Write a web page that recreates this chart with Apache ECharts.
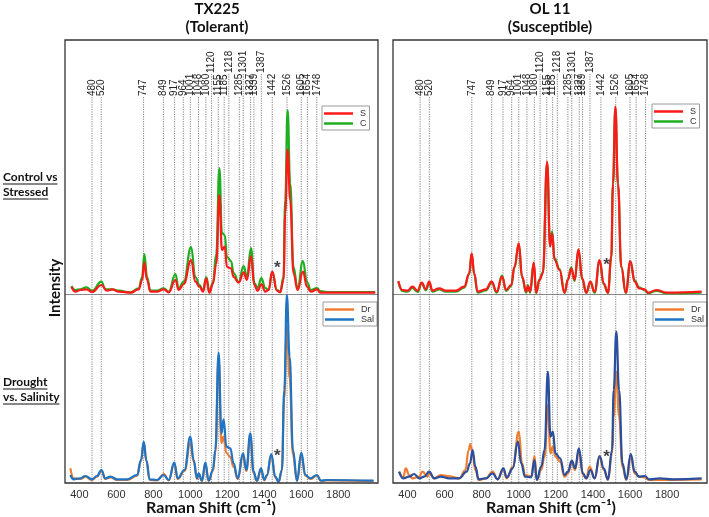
<!DOCTYPE html>
<html>
<head>
<meta charset="utf-8">
<script src="https://cdn.jsdelivr.net/npm/echarts@6/dist/echarts.min.js"></script>
<style>html,body{margin:0;padding:0;background:#fff}#c{width:709px;height:517px}</style>
</head>
<body>
<div id="c"></div>
<script>
// ---------- DATA ----------
const panelTitles = [['TX225', '(Tolerant)'], ['OL 11', '(Susceptible)']];
const rowTitles = [['Control vs', 'Stressed'], ['Drought', 'vs. Salinity']];
const xTickValues = [400, 600, 800, 1000, 1200, 1400, 1600, 1800];
const peakPositions = [468, 518, 747, 854, 915, 962, 1000, 1044, 1084, 1115, 1151, 1183, 1208, 1265, 1286, 1326, 1344, 1384, 1443, 1523, 1600, 1633, 1684];
const peakLabels = ['480', '520', '747', '849', '917', '964', '1001', '1048', '1080', '1120', '1155', '1185', '1218', '1285', '1301', '1327', '1339', '1387', '1442', '1526', '1605', '1654', '1748'];
const raisedLabels = ['1120', '1218', '1301', '1387'];
const starPointsTop = [[1470, 30], [1474, 33]];
const starPointsBottom = [[1470, 31], [1474, 30]];

// TX225 control vs stressed
const tx225_C = [[357,8],[378,4],[405,4.7],[438,6.7],[468,3.3],[519,12.3],[540,4.7],[577,4.7],[613,3.3],[676,1.7],[721,5.7],[739,17],[751,40],[766,17],[784,3.3],[820,3.3],[856,5.7],[883,2.3],[919,20],[937,5.7],[964,12.3],[1004,47],[1027,17],[1050,9],[1068,3.3],[1086,17],[1103,2.3],[1122,11.3],[1140,40],[1157,126],[1171,61],[1186,59],[1198,37],[1220,33],[1234,21],[1261,12],[1288,28],[1306,17],[1328,46],[1346,11],[1364,6],[1384,16],[1405,6],[1423,4],[1443,22],[1468,4],[1486,2.3],[1504,17],[1513,94],[1526,184],[1540,111],[1558,27],[1580,6],[1609,33],[1631,12],[1652,4],[1685,6],[1703,3],[1739,2],[2000,2]];
const tx225_S = [[357,7.3],[378,2.3],[405,4],[438,4.7],[468,2],[519,9],[549,3.3],[577,4.7],[613,2.3],[676,1.3],[721,4.7],[739,14],[751,31.3],[766,14],[784,2.3],[820,2.3],[856,4.7],[883,1.7],[919,14],[937,4],[964,10],[1004,34],[1027,12.3],[1050,7.3],[1068,2.3],[1086,15.7],[1103,1.3],[1122,10],[1140,30],[1157,99],[1171,44],[1186,47.3],[1198,27],[1220,25.7],[1234,17],[1261,11.3],[1288,21.3],[1306,14],[1328,38],[1346,9],[1364,3.3],[1384,9.7],[1405,2.3],[1423,4],[1443,22.3],[1468,3.3],[1486,1.7],[1504,14],[1513,80.7],[1526,144.7],[1540,94],[1558,20.7],[1580,4],[1609,22.3],[1631,7.3],[1652,2.3],[1685,4.7],[1703,1.3],[2000,1.3]];

// OL 11 control vs stressed
const ol11_S = [[351,13],[373,4],[400,3.3],[427,7.3],[454,3.3],[477,11.3],[499,4.7],[517,12.3],[535,3.3],[571,5.7],[607,3.3],[661,3.3],[706,7.3],[733,20.7],[746,40.7],[760,20.7],[778,2.3],[823,4.7],[854,12.3],[881,2.3],[910,17.3],[932,4],[959,9],[977,27.3],[1000,50.7],[1018,17.3],[1040,2.3],[1049,8],[1061,2.3],[1081,31.3],[1094,1.3],[1112,14],[1130,20.7],[1153,132.3],[1169,47.3],[1180,60.7],[1193,34],[1220,24],[1247,1.3],[1265,14],[1283,25.7],[1301,14],[1322,44.7],[1342,15.7],[1364,1.3],[1386,12.3],[1409,2.3],[1436,34],[1458,10.7],[1481,1.3],[1499,37.3],[1508,110.7],[1521,187.3],[1535,110.7],[1553,27.3],[1577,1.3],[1602,33],[1625,12.3],[1649,5.7],[1679,4.7],[1697,1.3],[1742,4],[1796,1.3],[1986,2.3]];
const ol11_C = [[351,12],[373,3],[400,2.3],[427,6],[454,2],[477,10.3],[499,3.7],[517,11.3],[535,2.3],[571,4.7],[607,2.3],[661,2.3],[706,6.3],[733,19.7],[746,40],[760,19.7],[778,1.3],[823,3.7],[854,11.3],[881,1.3],[910,18.3],[932,3],[959,8],[977,26.3],[1000,50],[1018,16.3],[1040,1.3],[1049,9],[1061,1.3],[1081,30.3],[1094,0.8],[1112,15],[1130,21.7],[1153,131],[1169,48.3],[1180,62.7],[1193,36],[1220,25],[1247,1],[1265,15],[1283,26.7],[1301,13],[1322,44],[1342,14.7],[1364,1],[1386,11.3],[1409,1.3],[1436,33],[1458,9.7],[1481,1],[1499,36],[1508,109],[1521,186],[1535,109],[1553,26.3],[1577,1],[1602,32],[1625,13.3],[1649,6.7],[1679,3.7],[1697,0.8],[1742,3],[1796,0.8],[1986,1.3]];

// TX225 drought vs salinity
const tx225_Sal = [[351,8],[369,3.7],[405,4.7],[432,7],[468,3.7],[495,7],[519,13],[540,4.7],[568,6.3],[604,3.7],[658,3.7],[712,8],[733,23],[748,41.3],[762,23],[780,3.7],[820,3],[856,8],[883,3],[913,20.3],[932,4.7],[968,13],[1000,46.3],[1018,23],[1036,4.7],[1045,9.7],[1063,2.3],[1081,20.3],[1099,2.3],[1122,13],[1135,33],[1153,130.3],[1168,49.7],[1180,63.7],[1195,36.3],[1216,34.7],[1234,19.7],[1256,4.7],[1285,29.7],[1303,13],[1324,49.7],[1342,11.3],[1360,2.3],[1382,14.7],[1400,3],[1414,8],[1438,29],[1459,6.3],[1477,1.3],[1495,13],[1508,93],[1522,188],[1537,126.3],[1555,33],[1577,2.3],[1600,30.3],[1622,8],[1649,4.7],[1685,8],[1706,2.3],[1739,3],[1991,2.3]];
const tx225_Dr = [[351,14.7],[369,4.7],[405,4],[432,6.3],[468,3],[495,6.3],[519,12],[540,4],[568,5.7],[604,3],[658,3],[712,7.3],[733,22],[748,40],[762,22],[780,3],[820,2.7],[856,9],[883,2.7],[913,19],[932,4],[968,12],[1000,40],[1018,21],[1036,4],[1045,9],[1063,2],[1081,19],[1099,2],[1122,12],[1135,30],[1153,124],[1168,40],[1180,46.3],[1195,30],[1216,26],[1234,16],[1256,4],[1285,27],[1303,12],[1324,46],[1342,10],[1360,2],[1382,13],[1400,2.7],[1414,7.3],[1438,28],[1459,5.7],[1477,1],[1495,12],[1508,85],[1522,156.3],[1537,105],[1555,28],[1577,2],[1600,28],[1622,7.3],[1649,4],[1685,7.3],[1706,2],[1739,2.7],[1991,2]];

// OL 11 drought vs salinity
const ol11_Sal = [[355,11.3],[377,4.7],[409,6.3],[436,9],[463,4.7],[490,6.3],[517,11.3],[544,4.7],[580,6.3],[625,4.7],[679,4.7],[719,11.3],[737,19.7],[751,33],[766,16.3],[784,3.7],[823,4.7],[859,9.7],[886,3.7],[917,14.7],[935,5.7],[968,14.7],[995,41.3],[1013,19.7],[1034,6.3],[1067,5.7],[1085,23],[1097,3],[1121,16.3],[1139,33],[1157,111.3],[1171,46.3],[1184,51.3],[1198,29.7],[1223,24.7],[1247,8],[1265,11.3],[1286,22.3],[1304,14.7],[1324,34.7],[1346,9.7],[1364,4.7],[1387,13],[1409,4.7],[1436,27],[1458,14.7],[1481,3.7],[1503,33],[1512,93],[1526,151.3],[1541,93],[1559,19.7],[1580,3.7],[1604,29],[1625,11.3],[1649,6.3],[1679,7],[1703,3.7],[1760,4.7],[1832,3.7],[1986,4.7]];
const ol11_Dr = [[355,11.3],[377,5.7],[391,14.7],[409,8],[427,4.7],[463,6.3],[481,11.3],[508,6.3],[517,9.7],[544,4.7],[580,8],[616,7],[679,4.7],[712,13],[730,33],[739,39],[751,29.7],[766,13],[784,3],[823,4.7],[859,11.3],[886,3.7],[917,13],[935,4.7],[968,16.3],[1000,51.3],[1018,19.7],[1034,8],[1067,6.3],[1085,27],[1097,3],[1121,13],[1139,26.3],[1157,78],[1171,29.7],[1184,36.3],[1198,26.3],[1223,21.3],[1247,6.3],[1265,9.7],[1286,19.7],[1304,13],[1324,33],[1346,8],[1364,4.7],[1382,16.3],[1409,4.7],[1436,26.3],[1458,13],[1481,3],[1503,29.7],[1512,66.3],[1526,111.3],[1541,66.3],[1559,16.3],[1580,3],[1604,26.3],[1625,9.7],[1649,6.3],[1679,5.7],[1703,3],[1986,3.7]];

// ---------- STYLE / LAYOUT ----------
const FONT = 'Lato, "Open Sans", sans-serif';
const RED = '#ff1a1a', GREEN = '#1fae1f', ORANGE = '#ee7d31', BLUE = '#1f74c4', NAVY = '#2a4f9c';
const X_MIN = 322, X_MAX = 2015;
const TOP_MAX = 254, BOT_MAX = 189;
const panels = [{left: 65, width: 313}, {left: 393, width: 314}];
const TOP = 40, TOP_H = 254, BOT_TOP = 294, BOT_H = 189;

const grids = [], xAxes = [], yAxes = [];
panels.forEach(p => {
  grids.push({left: p.left, top: TOP, width: p.width, height: TOP_H, outerBoundsMode: 'none'});
  grids.push({left: p.left, top: BOT_TOP, width: p.width, height: BOT_H, outerBoundsMode: 'none'});
});
grids.forEach((g, i) => {
  const isBottom = i % 2 === 1;
  xAxes.push({
    type: 'value', gridIndex: i, min: X_MIN, max: X_MAX,
    splitLine: {show: false}, axisTick: {show: false},
    axisLine: {show: !isBottom, lineStyle: {color: '#8a8a8a', width: 1}},
    axisLabel: isBottom ? {show: true, customValues: xTickValues, formatter: v => String(v), fontSize: 11, color: '#333', margin: 6, fontFamily: 'Liberation Sans, Arial, sans-serif'} : {show: false}
  });
  yAxes.push({type: 'value', gridIndex: i, min: 0, max: isBottom ? BOT_MAX : TOP_MAX, show: false});
});

function vlineTop(params, api) {
  const lab = peakLabels[params.dataIndex];
  const w = api.value(0);
  const anchor = raisedLabels.includes(lab) ? 221 : 198;
  const top = api.coord([w, anchor]);
  const base = api.coord([w, 0]);
  return {type: 'group', children: [
    {type: 'line', shape: {x1: top[0], y1: top[1] + 1, x2: base[0], y2: base[1]}, style: {stroke: '#666', lineWidth: 0.8, lineDash: [1.2, 1.2]}},
    {type: 'text', x: top[0], y: top[1], rotation: Math.PI / 2,
     style: {text: lab, align: 'left', verticalAlign: 'middle', fontSize: 10, fill: '#222', fontFamily: 'Liberation Sans, Arial, sans-serif'}}
  ]};
}
function vlineBottom(params, api) {
  const w = api.value(0);
  const top = api.coord([w, BOT_MAX]);
  const base = api.coord([w, 0]);
  return {type: 'line', shape: {x1: top[0], y1: top[1], x2: base[0], y2: base[1]}, style: {stroke: '#666', lineWidth: 0.8, lineDash: [1.2, 1.2]}};
}

const series = [];
const lineData = peakPositions.map(w => [w, 0]);
for (let g = 0; g < 4; g++) {
  series.push({type: 'custom', xAxisIndex: g, yAxisIndex: g, data: lineData, renderItem: g % 2 === 0 ? vlineTop : vlineBottom, silent: true, z: 1});
}
function spec(name, data, color, g) {
  return {type: 'line', name, data, xAxisIndex: g, yAxisIndex: g, showSymbol: false, symbol: 'none', smooth: 0.45, smoothMonotone: 'x',
    lineStyle: {color, width: 2.2}, itemStyle: {color}, silent: true, z: 3};
}
series.push(spec('C', tx225_C, GREEN, 0));
series.push(spec('S', tx225_S, RED, 0));
series.push(spec('Dr', tx225_Dr, ORANGE, 1));
series.push(spec('Sal', tx225_Sal, BLUE, 1));
series.push(spec('C', ol11_C, GREEN, 2));
series.push(spec('S', ol11_S, RED, 2));
series.push(spec('Dr', ol11_Dr, ORANGE, 3));
series.push(spec('Sal', ol11_Sal, NAVY, 3));

function stars(data, g) {
  return {type: 'scatter', data, xAxisIndex: g, yAxisIndex: g, symbolSize: 0, silent: true, z: 5,
    label: {show: true, position: 'inside', formatter: '*', fontSize: 17, fontWeight: 'bold', color: '#111', fontFamily: 'Liberation Sans, Arial, sans-serif', offset: [0, 4]}};
}
series.push(stars([starPointsTop[0]], 0));
series.push(stars([starPointsBottom[0]], 1));
series.push(stars([starPointsTop[1]], 2));
series.push(stars([starPointsBottom[1]], 3));

function legend(names, left, top) {
  return {data: names, left, top, orient: 'vertical', icon: 'rect', itemWidth: 29, itemHeight: 2.5, itemGap: 1,
    borderColor: '#9a9a9a', borderWidth: 1, padding: [3, 3, 2, 2], selectedMode: false,
    textStyle: {fontSize: 9, color: '#333', fontFamily: 'Liberation Sans, Arial, sans-serif', padding: [0, 0, 0, 2]}};
}
const legends = [legend(['S', 'C'], 322, 106), legend(['Dr', 'Sal'], 323, 302), legend(['S', 'C'], 652, 104), legend(['Dr', 'Sal'], 653, 302)];

const graphics = [];
panels.forEach((p, i) => {
  graphics.push({type: 'rect', shape: {x: p.left, y: TOP, width: p.width, height: TOP_H + BOT_H}, style: {fill: 'none', stroke: '#333', lineWidth: 1.3}, z: 10});
  const cx = [217, 550][i];
  graphics.push({type: 'text', x: cx, y: 9, style: {text: panelTitles[i][0], align: 'center', verticalAlign: 'middle', font: 'bold 15px ' + FONT, fill: '#111'}});
  graphics.push({type: 'text', x: cx, y: 27, style: {text: panelTitles[i][1], align: 'center', verticalAlign: 'middle', font: 'bold 15px ' + FONT, fill: '#111'}});
  const ax = [211, 551][i];
  graphics.push({type: 'text', x: ax, y: 508, style: {text: 'Raman Shift (cm\u207B\u00B9)', align: 'center', verticalAlign: 'middle', font: 'bold 16px ' + FONT, fill: '#111'}});
});
graphics.push({type: 'text', x: 55, y: 288, rotation: Math.PI / 2, style: {text: 'Intensity', align: 'center', verticalAlign: 'middle', font: 'bold 15px ' + FONT, fill: '#111'}});
const rowY = [[177, 192], [382, 397]];
rowTitles.forEach((rt, r) => {
  rt.forEach((t, k) => {
    const y = rowY[r][k];
    graphics.push({type: 'text', x: 3, y, style: {text: t, align: 'left', verticalAlign: 'middle', font: 'bold 12px ' + FONT, fill: '#111'}});
    const w = echarts.format.getTextRect ? echarts.format.getTextRect(t, 'bold 12px ' + FONT).width : t.length * 6;
    graphics.push({type: 'line', shape: {x1: 3, y1: y + 7, x2: 3 + w, y2: y + 7}, style: {stroke: '#111', lineWidth: 1}});
  });
});

const chart = echarts.init(document.getElementById('c'), null, {renderer: 'canvas'});
chart.setOption({animation: false, grid: grids, xAxis: xAxes, yAxis: yAxes, series, legend: legends, graphic: graphics});
</script>
</body>
</html>
